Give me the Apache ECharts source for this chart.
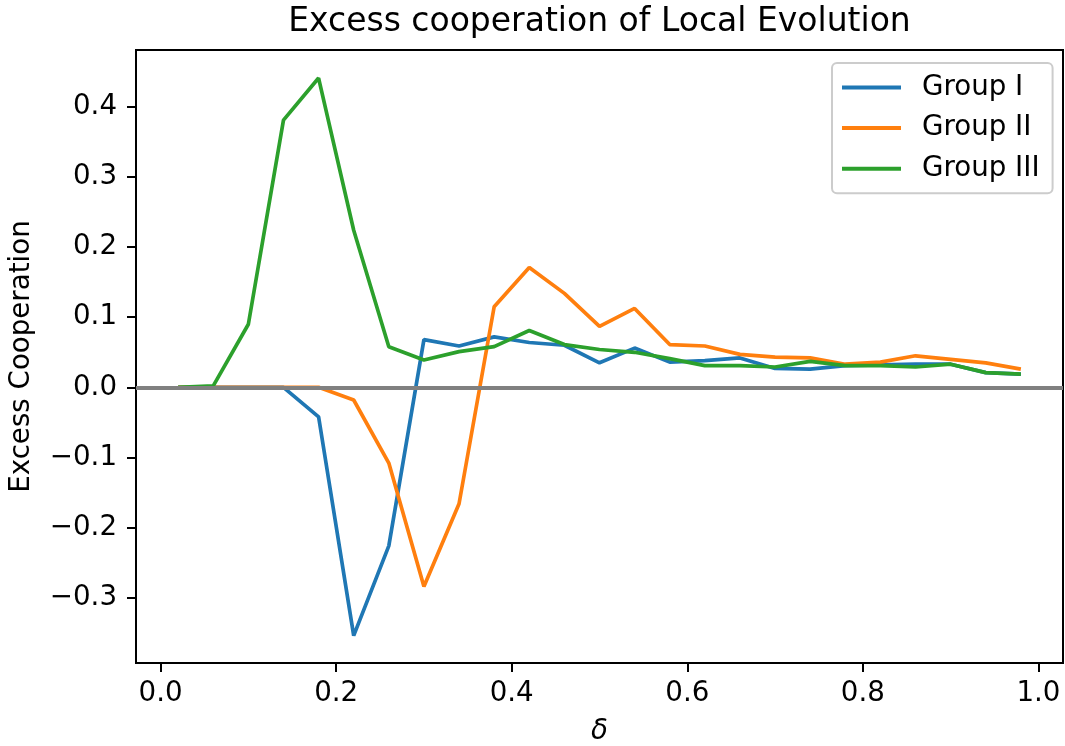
<!DOCTYPE html>
<html>
<head>
<meta charset="utf-8">
<script src="https://cdn.jsdelivr.net/npm/echarts@6/dist/echarts.min.js"></script>
<style>
html,body{margin:0;padding:0;background:#fff;}
#chart{width:1065px;height:746px;}
</style>
</head>
<body>
<div id="chart"></div>
<script>
const deltas = [0.02, 0.06, 0.10, 0.14, 0.18, 0.22, 0.26, 0.30, 0.34, 0.38, 0.42, 0.46, 0.50,
                0.54, 0.58, 0.62, 0.66, 0.70, 0.74, 0.78, 0.82, 0.86, 0.90, 0.94, 0.98];
const groupI = [0, 0, 0, 0, -0.042, -0.354, -0.226, 0.068, 0.059, 0.072, 0.064, 0.060, 0.035,
                0.056, 0.036, 0.038, 0.042, 0.027, 0.026, 0.031, 0.032, 0.033, 0.033, 0.021, 0.019];
const groupII = [0, 0, 0, 0, 0, -0.018, -0.108, -0.284, -0.166, 0.115, 0.171, 0.134, 0.087,
                 0.1125, 0.061, 0.059, 0.047, 0.043, 0.042, 0.033, 0.036, 0.045, 0.040, 0.035, 0.026];
const groupIII = [0, 0.002, 0.090, 0.381, 0.441, 0.224, 0.058, 0.039, 0.051, 0.058, 0.081, 0.061, 0.054,
                  0.050, 0.041, 0.031, 0.031, 0.029, 0.037, 0.031, 0.031, 0.029, 0.033, 0.021, 0.019];
const seriesNames = ['Group I', 'Group II', 'Group III'];
const xTicks = [0.0, 0.2, 0.4, 0.6, 0.8, 1.0];
const yTicks = [-0.3, -0.2, -0.1, 0.0, 0.1, 0.2, 0.3, 0.4];
const zeroLevel = 0;

const FONT = 'DejaVu Sans';
const fmt = v => { const s = (Math.abs(v) < 1e-9 ? 0 : v).toFixed(1); return s.replace('-', '\u2212'); };
const pairs = arr => arr.map((v, i) => [deltas[i], v]);

const chart = echarts.init(document.getElementById('chart'), null, {renderer: 'canvas'});
chart.setOption({
  animation: false,
  backgroundColor: '#fff',
  color: ['#1f77b4', '#ff7f0e', '#2ca02c'],
  title: {
    text: 'Excess cooperation of Local Evolution',
    left: 599.5, top: 6, textAlign: 'center', padding: 0,
    textStyle: {fontFamily: FONT, fontSize: 33, fontWeight: 'normal', color: '#000'}
  },
  legend: {
    data: seriesNames,
    orient: 'vertical',
    left: 832, top: 63,
    padding: [9, 13, 9, 10],
    itemGap: 9.6,
    itemWidth: 59, itemHeight: 4,
    icon: 'rect',
    borderColor: '#cccccc', borderWidth: 2, borderRadius: 5,
    backgroundColor: 'rgba(255,255,255,0.8)',
    textStyle: {fontFamily: FONT, fontSize: 27.7, lineHeight: 31, color: '#000', padding: [0, 0, 0, 16]}
  },
  grid: {left: 136, right: 2, top: 50, bottom: 83, outerBoundsMode: 'none', containLabel: false,
         show: true, borderColor: '#000', borderWidth: 2, backgroundColor: 'transparent'},
  xAxis: {
    type: 'value', min: -0.028, max: 1.028,
    name: 'δ', nameLocation: 'middle', nameGap: 55,
    nameTextStyle: {fontFamily: FONT, fontSize: 27.7, fontStyle: 'italic', color: '#000'},
    axisLine: {show: false, onZero: false},
    axisTick: {show: true, inside: false, length: 9, lineStyle: {color: '#000', width: 2}, customValues: xTicks},
    axisLabel: {fontFamily: FONT, fontSize: 27.7, color: '#000', margin: 17, customValues: xTicks, formatter: fmt},
    splitLine: {show: false}
  },
  yAxis: {
    type: 'value', min: -0.393, max: 0.481,
    name: 'Excess Cooperation', nameLocation: 'middle', nameGap: 100, nameRotate: 90,
    nameTextStyle: {fontFamily: FONT, fontSize: 27.7, color: '#000'},
    axisLine: {show: false, onZero: false},
    axisTick: {show: true, inside: false, length: 9, lineStyle: {color: '#000', width: 2}, customValues: yTicks},
    axisLabel: {fontFamily: FONT, fontSize: 27.7, color: '#000', margin: 19, customValues: yTicks, formatter: fmt},
    splitLine: {show: false}
  },
  series: [
    {name: seriesNames[0], type: 'line', data: pairs(groupI), showSymbol: false, symbol: 'none', lineStyle: {width: 3.7, color: '#1f77b4'}, itemStyle: {color: '#1f77b4'}},
    {name: seriesNames[1], type: 'line', data: pairs(groupII), showSymbol: false, symbol: 'none', lineStyle: {width: 3.7, color: '#ff7f0e'}, itemStyle: {color: '#ff7f0e'}},
    {name: seriesNames[2], type: 'line', data: pairs(groupIII), showSymbol: false, symbol: 'none', lineStyle: {width: 3.7, color: '#2ca02c'}, itemStyle: {color: '#2ca02c'}},
    {name: 'zero', type: 'line', data: [], z: 5, silent: true,
     markLine: {silent: true, symbol: 'none', label: {show: false},
       lineStyle: {color: '#808080', width: 4, type: 'solid'},
       data: [{yAxis: zeroLevel}]}}
  ]
});
</script>
</body>
</html>
